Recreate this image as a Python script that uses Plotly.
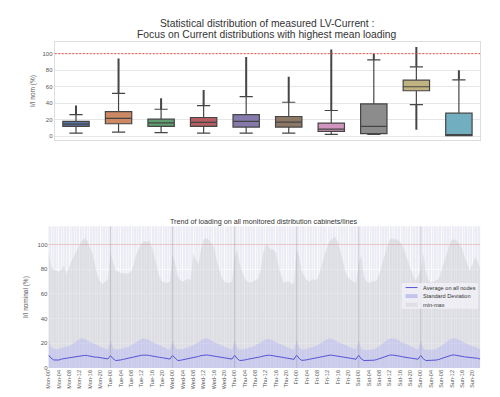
import plotly.graph_objects as go

# ---------------- Top chart: box statistics per cabinet ----------------
BOX_COLORS = ["#5875A4", "#CC8963", "#5F9E6E", "#B55D60", "#857AAB",
              "#8D7866", "#D095BF", "#8C8C8C", "#C1B37F", "#71AEC0"]
Q1 = [11.7, 14.9, 11.7, 11.7, 10.8, 10.8, 5.6, 2.8, 55.0, 0.4]
MEDIAN = [14.5, 21.3, 16.0, 16.5, 17.7, 16.9, 8.4, 11.7, 59.8, 1.6]
Q3 = [17.7, 29.7, 20.5, 22.5, 26.0, 23.7, 15.7, 39.0, 67.8, 27.7]
LOW_FENCE = [3.6, 4.8, 4.0, 3.6, 3.6, 3.6, 2.0, 2.0, 38.2, 0.4]
UP_FENCE = [26.0, 51.8, 32.5, 37.0, 47.8, 41.0, 31.0, 92.4, 84.0, 68.3]
OUTLIER_MAX = [37.0, 94.0, 45.8, 55.8, 96.0, 72.0, 105.0, 100.0, 108.0, 80.0]
OUTLIER_MIN = [None, None, None, None, None, None, None, None, 7.6, None]

# ---------------- Bottom chart: hourly trend over a week ----------------
DAYS = ["Mon", "Tue", "Wed", "Thu", "Fri", "Sat", "Sun"]
HOURS = list(range(168))
TICK_HOURS = list(range(0, 168, 4))
TICK_LABELS = [f"{DAYS[h // 24]}-{h % 24:02d}" for h in TICK_HOURS]
LEGEND_LABELS = ["Average on all nodes", "Standard Deviation", "min-max"]

MAX_LOAD = [
    95, 82, 80, 79, 78, 80, 83, 76, 82, 87, 91, 96, 100, 103, 105, 103, 98, 93, 84, 74, 70, 68, 70, 72,
    93, 86, 79, 78, 77, 77, 76, 77, 78, 84, 92, 97, 101, 103, 102, 103, 98, 90, 81, 73, 70, 69, 69, 70,
    92, 85, 74, 71, 70, 71, 72, 71, 93, 88, 84, 96, 104, 105, 104, 101, 98, 88, 80, 73, 70, 69, 69, 70,
    90, 96, 84, 78, 72, 70, 69, 70, 71, 72, 78, 92, 100, 99, 96, 96, 93, 82, 75, 69, 70, 70, 68, 69,
    96, 90, 78, 75, 71, 70, 72, 71, 72, 78, 86, 93, 99, 103, 105, 106, 102, 95, 86, 77, 73, 71, 70, 69,
    85, 91, 74, 70, 69, 70, 70, 71, 76, 84, 92, 98, 104, 105, 104, 104, 102, 99, 93, 87, 80, 75, 71, 74,
    80, 93, 78, 71, 69, 70, 71, 72, 79, 86, 94, 99, 104, 104, 103, 100, 97, 90, 84, 79, 84, 90, 86, 81,
]
AVG_LOAD = [
    10.5, 8.0, 6.5, 6.2, 6.4, 7.2, 7.6, 7.8, 8.0, 8.3, 8.8, 9.5, 10.0, 10.3, 10.2, 10.0, 9.4, 9.0, 8.8, 8.7, 8.5, 8.0, 7.6, 7.3,
    10.0, 7.5, 6.0, 6.1, 6.5, 7.0, 7.4, 7.7, 8.0, 8.5, 9.2, 9.8, 10.3, 10.5, 10.4, 10.1, 9.6, 9.0, 8.8, 8.6, 8.3, 8.0, 7.6, 7.2,
    10.2, 7.8, 6.0, 6.2, 6.6, 7.1, 7.4, 7.7, 8.1, 8.6, 9.3, 10.0, 10.4, 10.5, 10.3, 10.0, 9.4, 9.0, 8.8, 8.5, 8.2, 7.8, 7.4, 7.2,
    10.3, 7.6, 6.0, 6.1, 6.5, 7.0, 7.3, 7.6, 8.0, 8.4, 9.0, 9.6, 10.1, 10.3, 10.2, 9.9, 9.3, 8.9, 8.6, 8.4, 8.1, 7.7, 7.3, 7.0,
    10.4, 7.6, 6.1, 6.2, 6.6, 7.1, 7.5, 7.8, 8.1, 8.5, 9.2, 9.8, 10.3, 10.4, 10.2, 9.9, 9.4, 9.0, 8.7, 8.5, 8.2, 7.8, 7.4, 7.1,
    10.3, 7.4, 6.0, 6.0, 6.0, 6.1, 6.3, 6.8, 7.5, 8.3, 9.2, 9.9, 10.4, 10.5, 10.3, 10.0, 9.5, 9.0, 8.7, 8.5, 8.3, 7.9, 7.4, 7.1,
    10.2, 7.4, 6.0, 6.0, 6.0, 6.1, 6.4, 6.9, 7.6, 8.4, 9.3, 10.0, 10.4, 10.5, 10.3, 9.9, 9.4, 9.0, 8.8, 8.7, 8.6, 8.3, 7.8, 7.2,
]
STD_LOAD = [
    13.0, 9.0, 9.0, 8.8, 9.1, 8.8, 8.9, 9.2, 10.0, 10.7, 11.7, 12.5, 13.5, 13.7, 13.3, 12.5, 11.6, 11.0, 10.2, 9.3, 9.0, 8.5, 7.9, 7.2,
    12.5, 8.5, 9.0, 8.9, 8.8, 9.0, 9.1, 9.5, 10.3, 11.0, 12.0, 12.8, 13.2, 13.3, 13.0, 12.4, 11.6, 11.0, 10.2, 9.5, 9.0, 8.4, 7.9, 7.4,
    11.8, 8.7, 8.9, 8.8, 8.8, 8.9, 9.2, 9.6, 10.2, 11.0, 11.8, 12.6, 13.2, 13.5, 13.2, 12.5, 11.7, 11.0, 10.3, 9.6, 9.0, 8.5, 8.0, 7.5,
    11.5, 8.6, 8.8, 8.8, 8.8, 9.0, 9.2, 9.6, 10.2, 10.9, 11.7, 12.4, 13.0, 13.2, 12.9, 12.3, 11.6, 11.0, 10.3, 9.6, 9.1, 8.6, 8.1, 7.6,
    11.8, 8.7, 8.8, 8.8, 8.9, 9.0, 9.3, 9.7, 10.3, 11.0, 11.9, 12.6, 13.2, 13.4, 13.1, 12.5, 11.7, 11.1, 10.4, 9.7, 9.1, 8.6, 8.1, 7.6,
    12.0, 8.6, 8.6, 8.5, 8.5, 8.6, 8.8, 9.4, 10.2, 11.1, 12.0, 12.8, 13.4, 13.6, 13.3, 12.6, 11.8, 11.1, 10.4, 9.7, 9.1, 8.6, 8.1, 7.6,
    11.8, 8.6, 8.6, 8.5, 8.5, 8.6, 8.9, 9.4, 10.2, 11.0, 11.9, 12.7, 13.3, 13.5, 13.2, 12.5, 11.7, 11.0, 10.3, 9.6, 9.2, 8.8, 8.4, 7.8,
]
STD_LOW = [a - s for a, s in zip(AVG_LOAD, STD_LOAD)]
STD_HIGH = [a + s for a, s in zip(AVG_LOAD, STD_LOAD)]

FONT = "Liberation Sans, Arial, sans-serif"
W, H = 500, 397
AVG_COLOR = "rgb(85,85,215)"
STD_FILL = "rgba(150,150,255,0.27)"
MM_FILL = "rgba(200,200,206,0.40)"
BG2 = "#ECECF4"

fig = go.Figure()

# ---- top: boxes ----
for i in range(len(Q1)):
    fig.add_trace(go.Box(
        x=[i], q1=[Q1[i]], median=[MEDIAN[i]], q3=[Q3[i]],
        lowerfence=[LOW_FENCE[i]], upperfence=[UP_FENCE[i]],
        fillcolor=BOX_COLORS[i], line=dict(color="#454545", width=1.2),
        width=0.62, whiskerwidth=0.5, boxpoints=False,
        xaxis="x", yaxis="y", showlegend=False, hoverinfo="skip",
    ))

ox, oy = [], []
for i in range(len(Q1)):
    if OUTLIER_MAX[i] is not None:
        ox += [i, i, None]
        oy += [UP_FENCE[i], OUTLIER_MAX[i], None]
    if OUTLIER_MIN[i] is not None:
        ox += [i, i, None]
        oy += [LOW_FENCE[i], OUTLIER_MIN[i], None]
fig.add_trace(go.Scatter(x=ox, y=oy, mode="lines", line=dict(color="#454545", width=2.0),
                         xaxis="x", yaxis="y", showlegend=False, hoverinfo="skip"))

# ---- bottom: trend ----
fig.add_trace(go.Scatter(x=HOURS, y=MAX_LOAD, mode="lines", line=dict(width=0),
                         fill="tozeroy", fillcolor=MM_FILL,
                         name=LEGEND_LABELS[2], showlegend=False, xaxis="x2", yaxis="y2"))
fig.add_trace(go.Scatter(x=HOURS, y=STD_LOW, mode="lines", line=dict(width=0),
                         showlegend=False, hoverinfo="skip", xaxis="x2", yaxis="y2"))
fig.add_trace(go.Scatter(x=HOURS, y=STD_HIGH, mode="lines", line=dict(width=0),
                         fill="tonexty", fillcolor=STD_FILL,
                         name=LEGEND_LABELS[1], showlegend=False, xaxis="x2", yaxis="y2"))
fig.add_trace(go.Scatter(x=HOURS, y=AVG_LOAD, mode="lines", line=dict(color=AVG_COLOR, width=1),
                         name=LEGEND_LABELS[0], showlegend=False, xaxis="x2", yaxis="y2"))

shapes = [
    dict(type="rect", xref="x2 domain", yref="y2 domain", x0=0, x1=1, y0=0, y1=1,
         fillcolor=BG2, line=dict(width=0), layer="below"),
    dict(type="line", xref="x domain", yref="y", x0=0, x1=1, y0=100, y1=100,
         line=dict(color="#e8453c", width=0.9, dash="2px,1.5px")),
    dict(type="line", xref="x2 domain", yref="y2", x0=0, x1=1, y0=100, y1=100,
         line=dict(color="rgba(215,120,120,0.5)", width=0.8)),
]
for d in range(1, 7):
    shapes.append(dict(type="line", xref="x2", yref="y2 domain", x0=d * 24, x1=d * 24, y0=0, y1=1,
                       line=dict(color="rgba(150,150,160,0.45)", width=1)))

# compact legend
lx0, lx1, ly0, ly1 = 393, 470, 277, 303
shapes.append(dict(type="rect", xref="paper", yref="paper", x0=lx0 / W, x1=lx1 / W,
                   y0=1 - ly1 / H, y1=1 - ly0 / H, fillcolor="rgba(240,240,246,0.85)",
                   line=dict(width=0)))
shapes.append(dict(type="line", xref="paper", yref="paper", x0=397 / W, x1=409 / W,
                   y0=1 - 281.7 / H, y1=1 - 281.7 / H, line=dict(color=AVG_COLOR, width=1)))
shapes.append(dict(type="rect", xref="paper", yref="paper", x0=397 / W, x1=409 / W,
                   y0=1 - 292.3 / H, y1=1 - 288.3 / H, fillcolor="rgba(195,195,240,1)", line=dict(width=0)))
shapes.append(dict(type="rect", xref="paper", yref="paper", x0=397 / W, x1=409 / W,
                   y0=1 - 301 / H, y1=1 - 297 / H, fillcolor="rgba(222,222,228,1)", line=dict(width=0)))

annotations = [
    dict(text="Statistical distribution of measured LV-Current :", x=258 / W, y=1 - 16 / H,
         xref="paper", yref="paper", showarrow=False, xanchor="center", yanchor="middle",
         font=dict(family=FONT, size=10.3, color="#333333")),
    dict(text="Focus on Current distributions with highest mean loading", x=258 / W, y=1 - 27 / H,
         xref="paper", yref="paper", showarrow=False, xanchor="center", yanchor="middle",
         font=dict(family=FONT, size=10.3, color="#333333")),
    dict(text="Trend of loading on all monitored distribution cabinets/lines", x=255 / W, y=1 - 215 / H,
         xref="paper", yref="paper", showarrow=False, xanchor="center", yanchor="middle",
         font=dict(family=FONT, size=7.2, color="#333333")),
]
for lab, yy in zip(LEGEND_LABELS, [281.7, 290.3, 299]):
    annotations.append(dict(text=lab, x=412.5 / W, y=1 - yy / H, xref="paper", yref="paper",
                            showarrow=False, xanchor="left", yanchor="middle",
                            font=dict(family=FONT, size=5.6, color="#333333")))

tickfont = dict(family=FONT, size=6, color="#555555")

fig.update_layout(
    width=W, height=H,
    margin=dict(l=0, r=0, t=0, b=0),
    paper_bgcolor="white",
    plot_bgcolor="white",
    showlegend=False,
    font=dict(family=FONT),
    xaxis=dict(domain=[44 / W, 472 / W], range=[-0.5, 9.5], showticklabels=False, ticks="",
               showgrid=False, zeroline=False, showline=True, linecolor="#dddddd", mirror=True,
               anchor="y"),
    yaxis=dict(domain=[1 - 133.3 / H, 1 - 34 / H], range=[-5.2, 114.5], tickvals=[0, 20, 40, 60, 80, 100],
               tickfont=tickfont, showgrid=True, gridcolor="#e6e6e6", gridwidth=1, zeroline=False,
               showline=True, linecolor="#dddddd", mirror=True, ticks="", anchor="x",
               title=dict(text="I/I nom (%)", font=dict(family=FONT, size=6.5, color="#555555"), standoff=6)),
    xaxis2=dict(domain=[37.7 / W, 472 / W], range=[0, 167], tickmode="array", tickvals=TICK_HOURS,
                ticktext=TICK_LABELS, tickangle=-90, tickfont=dict(family=FONT, size=5.5, color="#555555"),
                ticks="", showgrid=True, gridcolor="rgba(255,255,255,0.6)", gridwidth=0.6, zeroline=False,
                minor=dict(tickmode="linear", tick0=0, dtick=1, showgrid=True,
                           gridcolor="rgba(255,255,255,0.45)", gridwidth=0.5),
                anchor="y2"),
    yaxis2=dict(domain=[1 - 362.7 / H, 1 - 220 / H], range=[0, 114.7], tickvals=[0, 20, 40, 60, 80, 100],
                tickfont=tickfont, showgrid=True, gridcolor="rgba(255,255,255,0.7)", gridwidth=0.8,
                zeroline=False, ticks="", anchor="x2",
                title=dict(text="I/I nominal (%)", font=dict(family=FONT, size=6.5, color="#555555"), standoff=8)),
    shapes=shapes,
    annotations=annotations,
)

fig.write_html("out.html")
